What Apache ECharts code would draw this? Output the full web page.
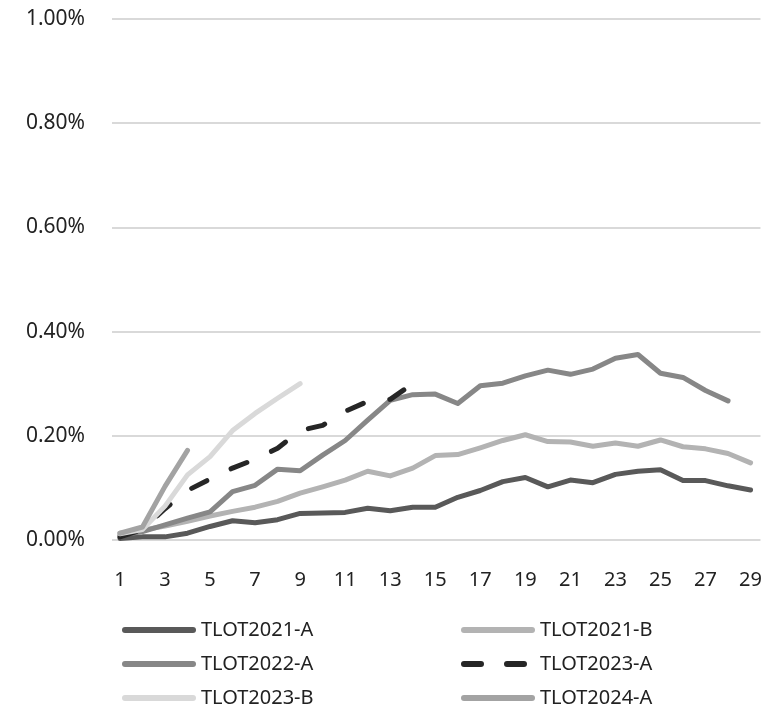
<!DOCTYPE html>
<html>
<head>
<meta charset="utf-8">
<script src="https://cdn.jsdelivr.net/npm/echarts@6/dist/echarts.min.js"></script>
<style>
html,body{margin:0;padding:0;background:#fff;}
#chart{width:765px;height:709px;}
</style>
</head>
<body>
<div id="chart"></div>
<script>
const periods = [1,2,3,4,5,6,7,8,9,10,11,12,13,14,15,16,17,18,19,20,21,22,23,24,25,26,27,28,29];
const xTickLabels = [1,3,5,7,9,11,13,15,17,19,21,23,25,27,29];
const yTicks = [0, 0.2, 0.4, 0.6, 0.8, 1.0];

const seriesNames = ['TLOT2021-A','TLOT2021-B','TLOT2022-A','TLOT2023-A','TLOT2023-B','TLOT2024-A'];

const tlot2021A = [0.003,0.006,0.006,0.013,0.026,0.037,0.033,0.039,0.051,0.052,0.053,0.061,0.056,0.063,0.063,0.082,0.095,0.112,0.120,0.102,0.115,0.110,0.126,0.132,0.135,0.114,0.114,0.104,0.096];
const tlot2021B = [0.013,0.019,0.027,0.036,0.046,0.055,0.063,0.074,0.090,0.102,0.115,0.132,0.123,0.138,0.162,0.164,0.177,0.191,0.202,0.189,0.188,0.180,0.186,0.180,0.192,0.179,0.175,0.166,0.148];
const tlot2022A = [0.010,0.016,0.029,0.042,0.054,0.093,0.105,0.136,0.133,0.163,0.191,0.230,0.268,0.279,0.280,0.262,0.296,0.301,0.315,0.326,0.318,0.328,0.349,0.356,0.320,0.312,0.287,0.267];
const tlot2023A = [0.006,0.020,0.060,0.095,0.117,0.138,0.155,0.176,0.210,0.220,0.247,0.266,0.270,0.300];
const tlot2023B = [0.012,0.020,0.065,0.125,0.160,0.210,0.243,0.272,0.300];
const tlot2024A = [0.013,0.025,0.103,0.172];

const values = [tlot2021A, tlot2021B, tlot2022A, tlot2023A, tlot2023B, tlot2024A];
const colors = ['#595959','#b3b3b3','#878787','#262626','#d9d9d9','#a3a3a3'];
const dashed = [false,false,false,true,false,false];

// legend placement: column (0 = left, 1 = right) and row for each series
const legendCol = [0, 1, 0, 1, 0, 1];
const legendRow = [0, 0, 1, 1, 2, 2];

const FONT = '"Noto Sans", "Open Sans", sans-serif';

const series = seriesNames.map((name, k) => ({
  name: name,
  type: 'line',
  symbol: 'none',
  data: values[k].map((v, i) => [periods[i], v]),
  lineStyle: {
    color: colors[k],
    width: 5,
    type: dashed[k] ? [17, 27] : 'solid',
    cap: 'round',
    join: 'round'
  },
  itemStyle: { color: colors[k] },
  animation: false
}));

const colLeft = [117, 456];
const rowTop = [615, 649, 683];

const legends = seriesNames.map((name, k) => {
  const item = { name: name };
  if (dashed[k]) item.lineStyle = { type: [17, 26] };
  return {
    orient: 'horizontal',
    left: colLeft[legendCol[k]],
    top: rowTop[legendRow[k]],
    itemWidth: 68,
    itemHeight: 14,
    itemStyle: { opacity: 0 },
    lineStyle: { width: 6, cap: 'round' },
    textStyle: { color: '#222', fontSize: 20, fontFamily: FONT, padding: [0, 0, 0, 3] },
    data: [item]
  };
});

const chart = echarts.init(document.getElementById('chart'), null, {renderer: 'canvas'});
chart.setOption({
  backgroundColor: '#ffffff',
  animation: false,
  grid: { left: 112, right: 0, top: 19, bottom: 169, containLabel: false },
  xAxis: {
    type: 'value',
    min: 0.647,
    max: 29.44,
    axisLine: { show: false },
    axisTick: { show: false },
    splitLine: { show: false },
    axisLabel: {
      customValues: xTickLabels,
      margin: 30,
      color: '#222',
      fontSize: 20,
      fontFamily: FONT
    }
  },
  yAxis: {
    type: 'value',
    min: 0,
    max: 1,
    interval: 0.2,
    axisLine: { show: false },
    axisTick: { show: false },
    splitLine: { lineStyle: { color: '#d9d9d9', width: 2 } },
    axisLabel: {
      margin: 27,
      color: '#222',
      fontSize: 21,
      fontFamily: FONT,
      formatter: v => v.toFixed(2) + '%'
    }
  },
  legend: legends,
  series: series
});
</script>
</body>
</html>
